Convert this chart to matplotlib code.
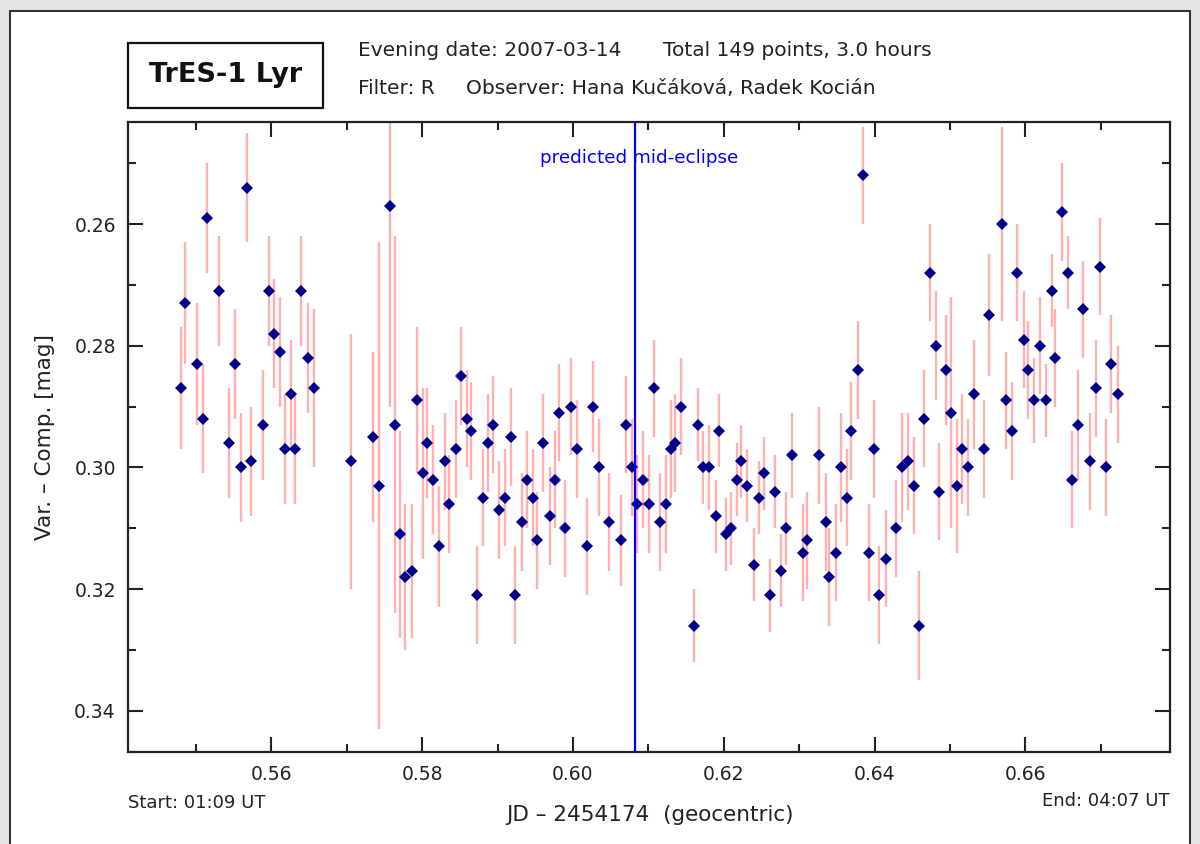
import matplotlib
matplotlib.use('Agg')
import matplotlib.pyplot as plt
from matplotlib.patches import Rectangle
import numpy as np

# JD - 2454174, geocentric
jd = [0.5480, 0.5486, 0.5501, 0.5509, 0.5515, 0.5531, 0.5544, 0.5552, 0.5560, 0.5568,
      0.5573, 0.5589, 0.5597, 0.5603, 0.5611, 0.5618, 0.5626, 0.5631, 0.5639, 0.5648,
      0.5656, 0.5706, 0.5735, 0.5743, 0.5757, 0.5764, 0.5771, 0.5777, 0.5786, 0.5793,
      0.5801, 0.5807, 0.5815, 0.5823, 0.5830, 0.5836, 0.5845, 0.5852, 0.5860, 0.5865,
      0.5873, 0.5881, 0.5888, 0.5894, 0.5902, 0.5910, 0.5918, 0.5923, 0.5932, 0.5939,
      0.5947, 0.5953, 0.5960, 0.5969, 0.5976, 0.5982, 0.5990, 0.5998, 0.6006, 0.6019,
      0.6027, 0.6035, 0.6048, 0.6064, 0.6070, 0.6078, 0.6085, 0.6093, 0.6101, 0.6107,
      0.6115, 0.6123, 0.6130, 0.6136, 0.6144, 0.6160, 0.6166, 0.6173, 0.6181, 0.6190,
      0.6194, 0.6203, 0.6210, 0.6218, 0.6223, 0.6231, 0.6240, 0.6247, 0.6253, 0.6261,
      0.6268, 0.6276, 0.6282, 0.6290, 0.6305, 0.6311, 0.6327, 0.6335, 0.6340, 0.6349,
      0.6356, 0.6364, 0.6369, 0.6378, 0.6385, 0.6393, 0.6399, 0.6406, 0.6415, 0.6428,
      0.6436, 0.6444, 0.6452, 0.6459, 0.6465, 0.6473, 0.6481, 0.6486, 0.6495, 0.6502,
      0.6510, 0.6516, 0.6524, 0.6532, 0.6545, 0.6552, 0.6569, 0.6574, 0.6582, 0.6589,
      0.6598, 0.6603, 0.6611, 0.6620, 0.6627, 0.6635, 0.6640, 0.6649, 0.6657, 0.6662,
      0.6670, 0.6677, 0.6686, 0.6694, 0.6699, 0.6707, 0.6714, 0.6723]

# Var. - Comp. [mag]
mag = [0.287, 0.273, 0.283, 0.292, 0.259, 0.271, 0.296, 0.283, 0.300, 0.254,
       0.299, 0.293, 0.271, 0.278, 0.281, 0.297, 0.288, 0.297, 0.271, 0.282,
       0.287, 0.299, 0.295, 0.303, 0.257, 0.293, 0.311, 0.318, 0.317, 0.289,
       0.301, 0.296, 0.302, 0.313, 0.299, 0.306, 0.297, 0.285, 0.292, 0.294,
       0.321, 0.305, 0.296, 0.293, 0.307, 0.305, 0.295, 0.321, 0.309, 0.302,
       0.305, 0.312, 0.296, 0.308, 0.302, 0.291, 0.310, 0.290, 0.297, 0.313,
       0.290, 0.300, 0.309, 0.312, 0.293, 0.300, 0.306, 0.302, 0.306, 0.287,
       0.309, 0.306, 0.297, 0.296, 0.290, 0.326, 0.293, 0.300, 0.300, 0.308,
       0.294, 0.311, 0.310, 0.302, 0.299, 0.303, 0.316, 0.305, 0.301, 0.321,
       0.304, 0.317, 0.310, 0.298, 0.314, 0.312, 0.298, 0.309, 0.318, 0.314,
       0.300, 0.305, 0.294, 0.284, 0.252, 0.314, 0.297, 0.321, 0.315, 0.310,
       0.300, 0.299, 0.303, 0.326, 0.292, 0.268, 0.280, 0.304, 0.284, 0.291,
       0.303, 0.297, 0.300, 0.288, 0.297, 0.275, 0.260, 0.289, 0.294, 0.268,
       0.279, 0.284, 0.289, 0.280, 0.289, 0.271, 0.282, 0.258, 0.268, 0.302,
       0.293, 0.274, 0.299, 0.287, 0.267, 0.300, 0.283, 0.288]

err = [0.010, 0.010, 0.010, 0.009, 0.009, 0.009, 0.009, 0.009, 0.009, 0.009,
       0.009, 0.009, 0.009, 0.009, 0.009, 0.009, 0.009, 0.009, 0.009, 0.009,
       0.013, 0.021, 0.014, 0.040, 0.033, 0.031, 0.017, 0.012, 0.011, 0.012,
       0.014, 0.009, 0.009, 0.010, 0.008, 0.008, 0.008, 0.008, 0.008, 0.008,
       0.008, 0.008, 0.008, 0.008, 0.008, 0.008, 0.008, 0.008, 0.008, 0.008,
       0.008, 0.008, 0.008, 0.008, 0.008, 0.008, 0.008, 0.008, 0.008, 0.008,
       0.0075, 0.008, 0.008, 0.0075, 0.008, 0.008, 0.008, 0.008, 0.008, 0.008,
       0.008, 0.008, 0.008, 0.008, 0.008, 0.006, 0.006, 0.006, 0.007, 0.006,
       0.006, 0.006, 0.006, 0.006, 0.006, 0.006, 0.006, 0.006, 0.006, 0.006,
       0.006, 0.006, 0.006, 0.007, 0.008, 0.008, 0.008, 0.008, 0.008, 0.008,
       0.009, 0.008, 0.008, 0.008, 0.008, 0.008, 0.008, 0.008, 0.008, 0.008,
       0.009, 0.008, 0.008, 0.009, 0.008, 0.008, 0.009, 0.008, 0.009, 0.019,
       0.011, 0.009, 0.008, 0.009, 0.008, 0.010, 0.016, 0.008, 0.008, 0.008,
       0.008, 0.008, 0.007, 0.008, 0.006, 0.006, 0.008, 0.008, 0.006, 0.008,
       0.009, 0.008, 0.008, 0.008, 0.008, 0.008, 0.008, 0.008]

mid_eclipse = 0.6082
xticks = [0.56, 0.58, 0.60, 0.62, 0.64, 0.66]
yticks = [0.26, 0.28, 0.30, 0.32, 0.34]

plt.rcParams['font.family'] = ['DejaVu Sans']
txt = '#222222'

fig = plt.figure(figsize=(12, 8.44), dpi=100, facecolor='#e6e6e6')
# white sheet with dark border
fig.patches.append(Rectangle((10 / 1200, -0.01), 1180 / 1200, 1 - 11 / 844 + 0.01,
                             transform=fig.transFigure, facecolor='white',
                             edgecolor='#333333', linewidth=1.5, zorder=-10))

ax = fig.add_axes([128.3 / 1200, (844 - 752.3) / 844, (1170 - 128.3) / 1200, 630 / 844])
ax.set_zorder(1)
ax.errorbar(jd, mag, yerr=err, fmt='none', ecolor='#ffb0b0', elinewidth=1.7,
            capsize=0, zorder=2)
ax.plot(jd, mag, 'D', color='#00008b', markersize=6.3, markeredgewidth=0, zorder=3)
ax.axvline(mid_eclipse, color='#0000ff', linewidth=1.6, zorder=4)
ax.text(mid_eclipse + 0.0006, 0.2492, 'predicted mid-eclipse', color='#0000ff',
        fontsize=13.2, ha='center', va='center', zorder=5)

ax.set_xlim(0.54103, 0.67919)
ax.set_ylim(0.34683, 0.24328)
ax.set_xticks(xticks)
ax.set_xticklabels(['%.2f' % v for v in xticks])
ax.set_yticks(yticks)
ax.set_yticklabels(['%.2f' % v for v in yticks])
ax.set_xticks(np.arange(0.55, 0.675, 0.01), minor=True)
ax.set_yticks(np.arange(0.25, 0.345, 0.01), minor=True)
ax.tick_params(which='both', direction='in', top=True, right=True, colors='#222222',
               labelcolor=txt, labelsize=13.5, width=1.5)
ax.tick_params(which='major', length=11, pad=9)
ax.tick_params(which='minor', length=5.5)
for s in ax.spines.values():
    s.set_linewidth(1.6)
    s.set_color('#222222')

ax.set_ylabel('Var. \u2013 Comp. [mag]', fontsize=15.5, color=txt, labelpad=14)
fig.text(650 / 1200, 1 - 815 / 844, 'JD \u2013 2454174  (geocentric)', fontsize=15.5,
         color=txt, ha='center', va='center')
fig.text(128 / 1200, 1 - 803 / 844, 'Start: 01:09 UT', fontsize=13, color=txt,
         ha='left', va='center')
fig.text(1170 / 1200, 1 - 801 / 844, 'End: 04:07 UT', fontsize=13, color=txt,
         ha='right', va='center')

# header
fig.patches.append(Rectangle((128 / 1200, 1 - 108 / 844), 195 / 1200, 65 / 844,
                             transform=fig.transFigure, facecolor='white',
                             edgecolor='#111111', linewidth=1.6, zorder=1))
fig.text(225.5 / 1200, 1 - 75 / 844, 'TrES-1 Lyr', fontsize=19.5, fontweight='bold',
         color='#111111', ha='center', va='center')
fig.text(358 / 1200, 1 - 50 / 844, 'Evening date: 2007-03-14', fontsize=14.5, color=txt,
         ha='left', va='center')
fig.text(663 / 1200, 1 - 50 / 844, 'Total 149 points, 3.0 hours', fontsize=14.5, color=txt,
         ha='left', va='center')
fig.text(358 / 1200, 1 - 89 / 844, 'Filter: R', fontsize=14.5, color=txt,
         ha='left', va='center')
fig.text(466 / 1200, 1 - 89 / 844, 'Observer: Hana Ku\u010d\u00e1kov\u00e1, Radek Koci\u00e1n',
         fontsize=14.5, color=txt, ha='left', va='center')

fig.savefig('out.png', dpi=100, facecolor=fig.get_facecolor())
